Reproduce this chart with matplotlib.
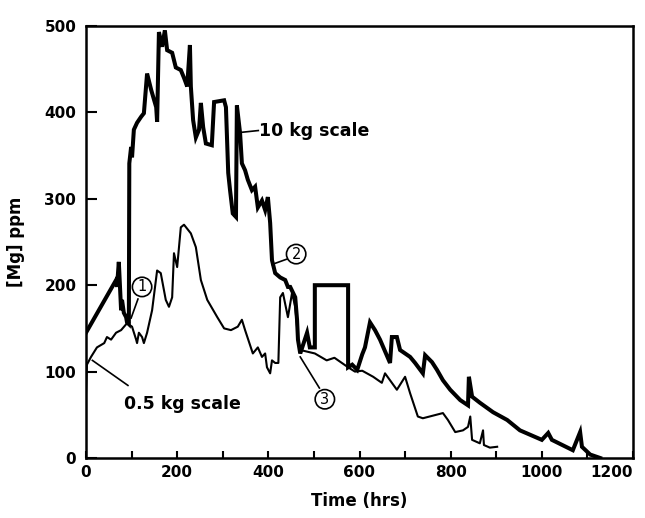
import matplotlib
matplotlib.use("Agg")
import matplotlib.pyplot as plt

# ---- data ----
thick_t = [0, 66, 68, 72, 77, 79, 83, 88, 90, 94, 95, 99, 101, 105, 112, 121, 127, 134, 143, 154,
           156, 160, 167, 173, 178, 189, 197, 208, 215, 222, 228, 230, 235, 241, 248, 252, 257, 263,
           276, 281, 303, 307, 312, 316, 322, 329, 331, 338, 342, 349, 355, 364, 371, 377, 386, 393,
           399, 404, 408, 415, 426, 437, 443, 448, 459, 463, 465, 470, 485, 491, 502, 502, 575, 575,
           584, 595, 606, 612, 623, 634, 645, 667, 671, 682, 689, 711, 722, 739, 744, 759, 770, 783,
           799, 821, 838, 840, 847, 864, 893, 924, 952, 1000, 1014, 1022, 1068, 1084, 1088, 1106, 1128]
thick_v = [145, 206, 198, 227, 171, 183, 168, 163, 157, 155, 341, 360, 348, 380, 388, 395, 399, 445,
           426, 406, 389, 493, 476, 495, 472, 469, 452, 449, 440, 430, 478, 430, 391, 371, 380, 411,
           383, 364, 362, 412, 414, 406, 330, 310, 283, 279, 408, 376, 341, 333, 322, 310, 314, 290,
           298, 287, 302, 272, 229, 214, 209, 206, 198, 198, 186, 160, 137, 121, 145, 128, 128, 200,
           200, 105, 108, 102, 120, 128, 157, 148, 137, 110, 140, 140, 125, 117, 110, 98, 119, 111,
           102, 90, 79, 67, 61, 94, 71, 64, 53, 44, 32, 21, 29, 21, 9, 30, 13, 4, 0]

thin1_t = [0, 2, 11, 24, 40, 46, 55, 66, 77, 90, 101, 110, 112, 116, 123, 127, 134, 145, 156, 164,
           175, 182, 189, 193, 200, 208, 215, 230, 241, 252, 266, 288, 303, 318, 333, 342, 349, 366,
           377, 386, 393, 397, 404, 408, 415, 422, 426, 432, 443, 452, 459, 465]
thin1_v = [75, 108, 117, 128, 133, 140, 137, 145, 148, 156, 152, 137, 133, 145, 140, 133, 145, 171,
           217, 214, 183, 175, 186, 237, 221, 267, 270, 260, 244, 206, 183, 163, 150, 148, 152, 160,
           148, 121, 128, 117, 121, 105, 98, 113, 110, 110, 186, 191, 163, 191, 175, 140]

thin3_t = [470, 502, 528, 545, 575, 590, 606, 630, 649, 656, 682, 700, 711, 728, 739, 783, 794, 810,
           827, 838, 843, 847, 864, 871, 873, 886, 902]
thin3_v = [125, 121, 113, 116, 105, 100, 101, 94, 87, 98, 79, 94, 75, 48, 46, 52, 44, 30, 32, 36, 48,
           21, 17, 32, 15, 12, 13]

x_ticks = [0, 200, 400, 600, 800, 1000, 1200]
x_minor = [100, 300, 500, 700, 900, 1100]
y_ticks = [0, 100, 200, 300, 400, 500]

FONT = "DejaVu Sans"

fig = plt.figure(figsize=(6.45, 5.18), dpi=100)
ax = fig.add_axes([86 / 645, 60 / 518, 547 / 645, 432 / 518])

ax.plot(thick_t, thick_v, color="black", lw=2.9, solid_joinstyle="miter")
ax.plot(thin1_t, thin1_v, color="black", lw=1.5)
ax.plot(thin3_t, thin3_v, color="black", lw=1.5)

ax.set_xlim(0, 1200)
ax.set_ylim(0, 500)
ax.set_xticks(x_ticks)
ax.set_xticks(x_minor, minor=True)
ax.set_yticks(y_ticks)
ax.set_xticklabels([str(v) for v in x_ticks], fontfamily=FONT, fontweight="bold", fontsize=11)
ax.set_yticklabels([str(v) for v in y_ticks], fontfamily=FONT, fontweight="bold", fontsize=11)
ax.get_xticklabels()[-1].set_horizontalalignment("right")
ax.tick_params(axis="x", which="both", direction="in", length=5, width=1.5, pad=5,
               top=False, bottom=True)
ax.tick_params(axis="y", direction="in", length=8, width=1.5, pad=7, left=True, right=False)
for s in ax.spines.values():
    s.set_linewidth(1.8)

ax.set_xlabel("Time (hrs)", fontfamily=FONT, fontweight="bold", fontsize=12, labelpad=9)
ax.set_ylabel("[Mg] ppm", fontfamily=FONT, fontweight="bold", fontsize=12, labelpad=14)

# annotations
ax.plot([342, 378], [377, 379], color="black", lw=1.2)
ax.text(380, 378, "10 kg scale", fontfamily=FONT, fontweight="bold", fontsize=12.5,
        va="center", ha="left")
ax.plot([14, 92], [113, 84], color="black", lw=1.2)
ax.text(83, 62, "0.5 kg scale", fontfamily=FONT, fontweight="bold", fontsize=12.5,
        va="center", ha="left")

circ = dict(boxstyle="circle,pad=0.15", fc="white", ec="black", lw=1.2)
ax.plot([99, 114], [162, 184], color="black", lw=1.2)
ax.text(123, 198, "1", fontfamily=FONT, fontsize=10.5, ha="center", va="center", bbox=circ)
ax.plot([408, 445], [224, 231], color="black", lw=1.2)
ax.text(461, 236, "2", fontfamily=FONT, fontsize=10.5, ha="center", va="center", bbox=circ)
ax.plot([470, 512], [117, 81], color="black", lw=1.2)
ax.text(524, 68, "3", fontfamily=FONT, fontsize=10.5, ha="center", va="center", bbox=circ)

fig.savefig("out.png", dpi=100)
